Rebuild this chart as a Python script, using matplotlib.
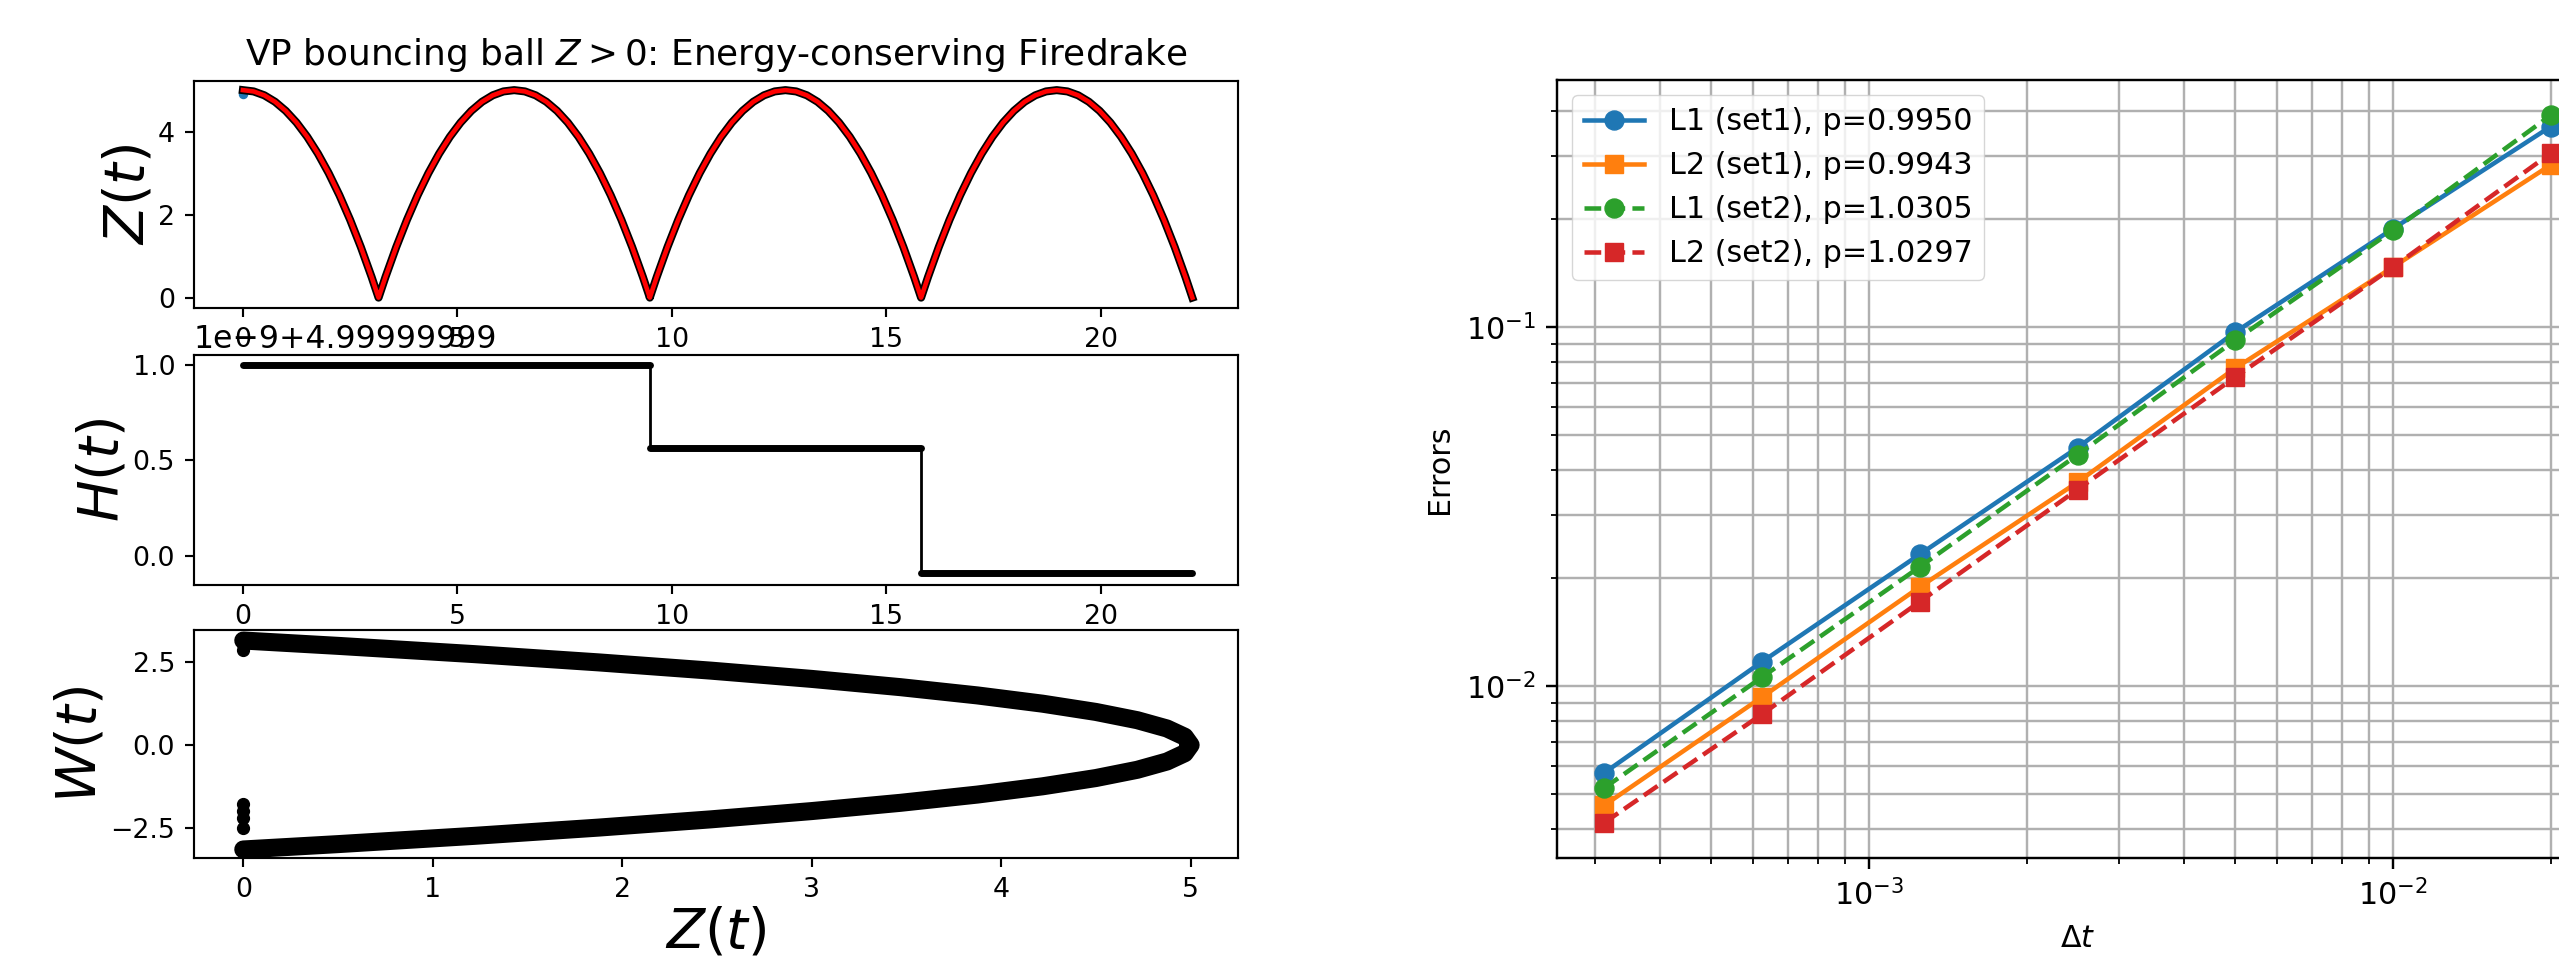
import matplotlib
matplotlib.use("Agg")
import matplotlib.pyplot as plt

# ---------------- data: left panel ----------------
# one bounce arc of the ball: offset from the apex time and height Z
arc_offset = [-3.162, -3.0, -2.75, -2.5, -2.25, -2.0, -1.75, -1.5, -1.25, -1.0, -0.75, -0.5, -0.25, 0.0,
              0.25, 0.5, 0.75, 1.0, 1.25, 1.5, 1.75, 2.0, 2.25, 2.5, 2.75, 3.0, 3.162]
arc_Z = [0.0, 0.5, 1.21875, 1.875, 2.46875, 3.0, 3.46875, 3.875, 4.21875, 4.5, 4.71875, 4.875, 4.96875, 5.0,
         4.96875, 4.875, 4.71875, 4.5, 4.21875, 3.875, 3.46875, 3.0, 2.46875, 1.875, 1.21875, 0.5, 0.0]
apex_times = [0.0, 6.325, 12.649, 18.974]
t_start, t_end = 0.0, 22.136
blue_start_t = [0.0]
blue_start_Z = [4.9]

# energy H(t) (in units of 1e-9, offset 4.99999999)
H_t = [0.0, 9.487, 9.487, 15.811, 15.811, 22.136]
H_vals = [1.0, 1.0, 0.565, 0.565, -0.09, -0.09]
H_level = [1.0, 0.565, -0.09]
H_start = [0.0, 9.487, 15.811]
H_end = [9.487, 15.811, 22.136]
H_offset_text = "1e\u22129+4.99999999"

# phase plot W(t) vs Z(t): W = -offset along the arc
bounce_Z = [0.0, 0.0, 0.0, 0.0, 0.0, 0.0, 0.0, 0.0]
bounce_W = [3.2, 3.05, 2.88, -1.78, -2.0, -2.2, -2.5, -3.2]

# ---------------- data: right panel ----------------
dt = [3.125e-4, 6.25e-4, 1.25e-3, 2.5e-3, 5e-3, 1e-2, 2e-2]
L1_set1 = [5.74e-3, 1.17e-2, 2.33e-2, 4.62e-2, 9.69e-2, 0.188, 0.362]
L2_set1 = [4.66e-3, 9.33e-3, 1.89e-2, 3.70e-2, 7.69e-2, 0.147, 0.283]
L1_set2 = [5.21e-3, 1.06e-2, 2.15e-2, 4.41e-2, 9.20e-2, 0.186, 0.389]
L2_set2 = [4.17e-3, 8.36e-3, 1.72e-2, 3.53e-2, 7.26e-2, 0.147, 0.305]
labels = ["L1 (set1), p=0.9950", "L2 (set1), p=0.9943",
          "L1 (set2), p=1.0305", "L2 (set2), p=1.0297"]

# assemble the Z(t) trajectory from the arcs
t_Z, Z_vals = [], []
for tp in apex_times:
    for d, z in zip(arc_offset, arc_Z):
        tt = tp + d
        if t_start - 1e-9 <= tt <= t_end + 1e-9:
            t_Z.append(tt)
            Z_vals.append(z)
phase_W = [-d for d in arc_offset]
phase_Z = list(arc_Z)

W, Hh = 2559, 965
fig = plt.figure(figsize=(W / 100, Hh / 100), dpi=100)

# ---------- left panel ----------
s1 = 1.93
fs_tick1 = 10 * s1
fs_lab1 = 40


def px_axes(x0, y0, x1, y1):
    return fig.add_axes([x0 / W, 1 - y1 / Hh, (x1 - x0) / W, (y1 - y0) / Hh])


def style_left(ax):
    for sp in ax.spines.values():
        sp.set_linewidth(0.8 * s1)
    ax.tick_params(labelsize=fs_tick1, length=3.5 * s1, width=0.8 * s1, pad=3.5 * s1)


ax1 = px_axes(194, 81, 1238, 308)
ax1.plot(blue_start_t, blue_start_Z, 'o', color='C0', ms=5.8, zorder=1)
ax1.plot(t_Z, Z_vals, '-', color='k', lw=5.8, solid_joinstyle='round', zorder=2)
ax1.plot(t_Z, Z_vals, '-', color='red', lw=3.3, solid_joinstyle='round', zorder=3)
ax1.set_xticks([0, 5, 10, 15, 20])
ax1.set_yticks([0, 2, 4])
ax1.set_ylabel(r"$Z(t)$", fontsize=fs_lab1, labelpad=2)
ax1.set_title(r"VP bouncing ball $Z>0$: Energy-conserving Firedrake", fontsize=25.8, pad=6 * s1)
style_left(ax1)

ax2 = px_axes(194, 355, 1238, 585)
ax2.plot(H_t, H_vals, '-', color='k', lw=2.0)
ax2.hlines(H_level, H_start, H_end, colors='k', lw=5.0, capstyle='round')
ax2.set_xticks([0, 5, 10, 15, 20])
ax2.set_yticks([0.0, 0.5, 1.0])
ax2.set_yticklabels(["0.0", "0.5", "1.0"])
ax2.set_ylabel(r"$H(t)$", fontsize=fs_lab1, labelpad=2)
ax2.text(0.0, 1.0, H_offset_text, transform=ax2.transAxes, ha='left', va='bottom',
         fontsize=fs_tick1 * 1.18)
style_left(ax2)

ax3 = px_axes(194, 630, 1238, 858)
ax3.plot(phase_Z, phase_W, '-', color='k', lw=13.0, solid_capstyle='round',
         solid_joinstyle='round')
ax3.plot(bounce_Z, bounce_W, 'o', color='k', ms=8.5)
ax3.set_xticks([0, 1, 2, 3, 4, 5])
ax3.set_yticks([-2.5, 0.0, 2.5])
ax3.set_yticklabels(["\u22122.5", "0.0", "2.5"])
ax3.set_xlim(-0.26, 5.25)
ax3.set_ylim(-3.42, 3.48)
ax3.set_ylabel(r"$W(t)$", fontsize=fs_lab1, labelpad=2)
ax3.set_xlabel(r"$Z(t)$", fontsize=fs_lab1, labelpad=2)
style_left(ax3)

for a in (ax1, ax2):
    a.set_xlim(-1.14, 23.2)
ax1.set_ylim(-0.25, 5.22)
ax2.set_ylim(-0.153, 1.05)

# ---------- right panel ----------
s2 = 2.17
fs2 = 10 * s2
axr = px_axes(1557, 80, 2598, 858)
styles = [
    dict(color='C0', marker='o', ls='-'),
    dict(color='C1', marker='s', ls='-'),
    dict(color='C2', marker='o', ls='--'),
    dict(color='C3', marker='s', ls='--'),
]
for ys, lab, st in zip([L1_set1, L2_set1, L1_set2, L2_set2], labels, styles):
    axr.loglog(dt, ys, label=lab, lw=1.5 * s2, ms=6.3 * s2,
               dashes=(3.7, 1.6) if st['ls'] == '--' else (None, None),
               color=st['color'], marker=st['marker'], linestyle=st['ls'])
axr.grid(True, which='both', lw=0.8 * s2, color='#b0b0b0')
axr.set_xlabel(r"$\Delta t$", fontsize=fs2, labelpad=4 * s2)
axr.set_ylabel("Errors", fontsize=fs2, labelpad=4 * s2)
axr.tick_params(which='major', labelsize=fs2, length=3.5 * s2, width=0.8 * s2, pad=3.5 * s2)
axr.tick_params(which='minor', length=2 * s2, width=0.6 * s2)
for sp in axr.spines.values():
    sp.set_linewidth(0.8 * s2)
axr.legend(loc='upper left', fontsize=fs2)

fig.savefig("out.png", dpi=100)
